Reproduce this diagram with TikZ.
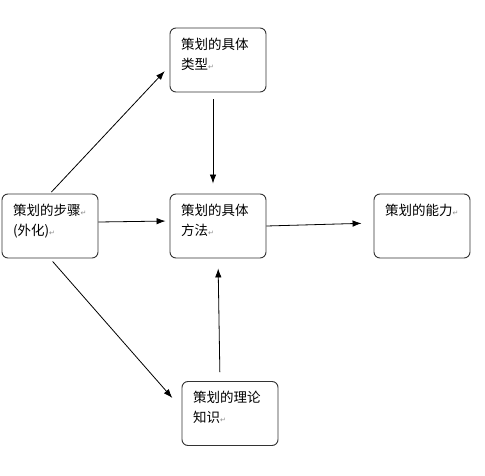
\documentclass[tikz,border=0pt]{standalone}
\usepackage{fontspec}
\setmainfont{Noto Sans CJK SC}
\newfontfamily\markfont{DejaVu Sans}
\usepackage{xcolor}
\usetikzlibrary{arrows.meta}

\newcommand{\blktext}[1]{\parbox[t][44pt][t]{74pt}{#1}}
\newcommand{\pmark}{{\markfont\color{black!45}\fontsize{7}{7}\selectfont ↵}}

\tikzset{
  blk/.style={draw=black!80, line width=0.9pt, rounded corners=6pt,
    minimum width=96pt, minimum height=64pt, inner xsep=11pt, inner ysep=10pt,
    font=\fontsize{13.5}{20}\selectfont},
  arr/.style={-{Latex[length=9pt,width=6.5pt]}, line width=0.8pt}
}

\begin{document}
\begin{tikzpicture}[x=1pt,y=-1pt]
\useasboundingbox[fill=white] (0,0) rectangle (485,476);
\node[blk] (step) at (50,226) {\blktext{策划的步骤\pmark\\(外化)\pmark}};
\node[blk] (type) at (218,60) {\blktext{策划的具体\\类型\pmark}};
\node[blk] (method) at (218,226) {\blktext{策划的具体\\方法\pmark}};
\node[blk] (ability) at (422,226) {\blktext{策划的能力\pmark}};
\node[blk] (theory) at (230,413.5) {\blktext{策划的理论\\知识\pmark}};
\draw[arr, shorten <=2pt, shorten >=7pt] (step.north) -- ([yshift=-6pt]type.west);
\draw[arr, shorten <=7pt, shorten >=10pt] ([xshift=-5pt]type.south) -- ([xshift=-5pt]method.north);
\draw[arr, shorten >=4pt] ([yshift=4pt]step.east) -- ([yshift=5pt]method.west);
\draw[arr, shorten >=12pt] (method.east) -- ([yshift=3pt]ability.west);
\draw[arr, shorten <=4pt, shorten >=14pt] (step.south) -- ([yshift=5pt]theory.west);
\draw[arr, shorten <=9pt, shorten >=10pt] ([xshift=-10pt]theory.north) -- (method.south);
\end{tikzpicture}
\end{document}
